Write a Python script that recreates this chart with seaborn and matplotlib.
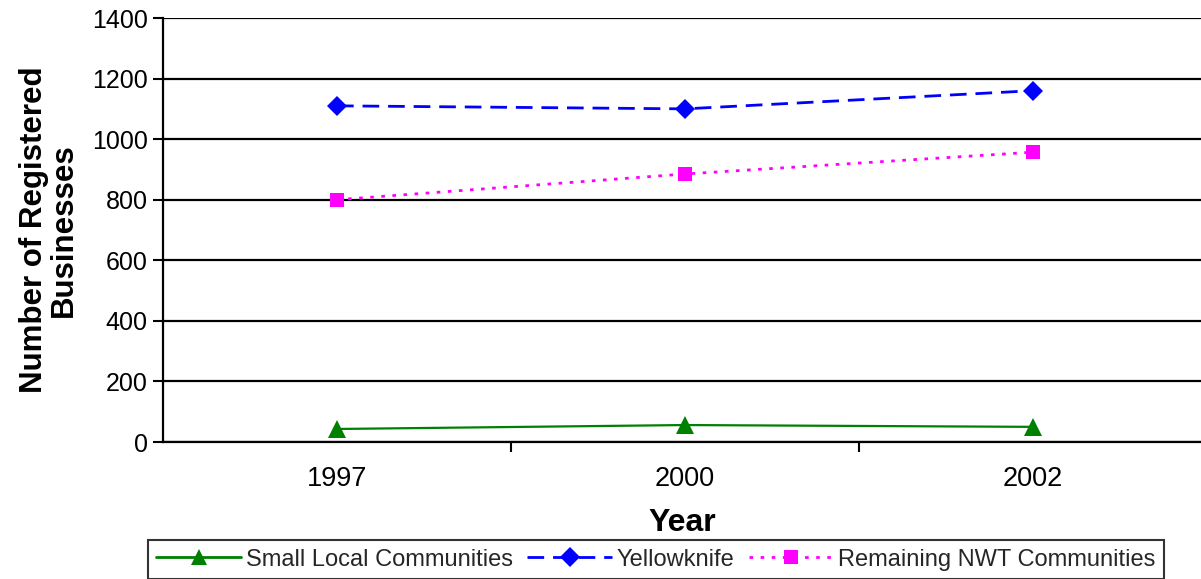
import matplotlib
matplotlib.use("Agg")
import matplotlib.pyplot as plt
import seaborn as sns
import pandas as pd
from matplotlib.ticker import FixedLocator

years = ["1997", "2000", "2002"]
series_names = ["Small Local Communities", "Yellowknife", "Remaining NWT Communities"]
small_local = [43, 56, 50]
yellowknife = [1110, 1100, 1160]
remaining_nwt = [800, 885, 957]

sns.set_style("white")
plt.rcParams['font.family'] = ['Liberation Sans', 'DejaVu Sans']

rows = []
for name, vals in zip(series_names, [small_local, yellowknife, remaining_nwt]):
    for i, (y, v) in enumerate(zip(years, vals)):
        rows.append({"Year": y, "idx": i, "Series": name, "Value": v})
df = pd.DataFrame(rows)

fig = plt.figure(figsize=(12.01, 5.79), dpi=100)
ax = fig.add_axes([163/1201, 1 - 442/579, 1 - 163/1201, (442 - 18)/579])

palette = {"Small Local Communities": "#008000", "Yellowknife": "#0000FF",
           "Remaining NWT Communities": "#FF00FF"}
markers = {"Small Local Communities": "^", "Yellowknife": "D",
           "Remaining NWT Communities": "s"}
dashes = {"Small Local Communities": "", "Yellowknife": (6.0, 3.2),
          "Remaining NWT Communities": (1.3, 2.7)}

sns.lineplot(data=df, x="idx", y="Value", hue="Series", style="Series",
             palette=palette, markers=markers, dashes=dashes,
             hue_order=series_names, style_order=series_names,
             linewidth=2.0, markersize=10.5, markeredgewidth=0, ax=ax, legend=True)
# green line thinner, triangle marker larger
ax.lines[0].set_linewidth(1.6)
ax.lines[0].set_markersize(12.5)

ax.set_xlim(-0.5, 2.5 - 6/348)
ax.set_ylim(0, 1400)
ax.set_yticks(range(0, 1401, 200))
ax.yaxis.grid(True, color="black", linewidth=1.6)
ax.set_axisbelow(True)
for s in ["top", "right"]:
    ax.spines[s].set_visible(False)
for s in ["left", "bottom"]:
    ax.spines[s].set_color("black")
    ax.spines[s].set_linewidth(1.6)

ax.set_xticks(range(len(years)))
ax.set_xticklabels(years)
ax.xaxis.set_minor_locator(FixedLocator([0.5, 1.5]))
ax.tick_params(axis="x", which="major", length=0, pad=17, labelsize=19.5, labelcolor="black")
ax.tick_params(axis="x", which="minor", length=7, width=1.5, color="black", direction="out", bottom=True)
ax.tick_params(axis="y", which="major", length=7, width=1.5, color="black", direction="out",
               left=True, labelsize=18, pad=4, labelcolor="black")

ax.set_xlabel("Year", fontsize=23, fontweight="bold", labelpad=12, color="black")
ax.set_ylabel("Number of Registered\nBusinesses", fontsize=22.5, fontweight="bold",
              labelpad=9, linespacing=1.0, color="black")

handles, labels = ax.get_legend_handles_labels()
for h in handles:
    h.set_markersize(10)
handles[0].set_markersize(12)
leg = fig.legend(handles, labels, loc="lower center", bbox_to_anchor=(656/1201, 0.0),
                 ncol=3, frameon=True, fontsize=17, handlelength=3.6, handletextpad=0.2,
                 columnspacing=0.6, borderpad=0.35, borderaxespad=0.0, fancybox=False,
                 edgecolor="black")
leg.get_frame().set_linewidth(1.5)
if ax.get_legend() is not None:
    ax.get_legend().remove()

fig.savefig("out.png", dpi=100)
